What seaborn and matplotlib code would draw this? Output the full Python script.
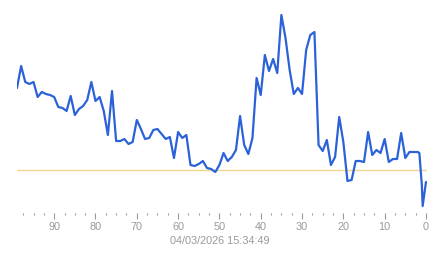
import matplotlib
matplotlib.use("Agg")
import matplotlib.pyplot as plt
import seaborn as sns
import pandas as pd
from matplotlib.ticker import MultipleLocator

sns.set_theme(style="white")
plt.rcParams['font.family'] = ['Liberation Sans', 'DejaVu Sans']

# minutes ago (x) and value (y)
minutes_ago = list(range(99, 1, -1)) + [1.6, 1.0, 0.8, 0]
values = [
    125, 147, 131, 129, 131, 116, 121, 119, 118, 116,   # 99..90
    106, 105, 102, 117, 98, 104, 107, 113, 131, 112,    # 89..80
    116, 102, 78, 122, 72, 72, 74, 69, 71, 93,          # 79..70
    84, 74, 75, 83, 84, 79, 74, 76, 55, 81,             # 69..60
    75, 78, 48, 47, 49, 52, 45, 44, 41, 48,             # 59..50
    60, 52, 56, 63, 97, 68, 59, 75, 135, 118,           # 49..40
    158, 142, 154, 140, 198, 175, 143, 119, 125, 119,   # 39..30
    163, 178, 181, 68, 62, 73, 48, 56, 96, 71,          # 29..20
    32, 33, 52, 52, 51, 81, 58, 63, 60, 74,             # 19..10
    51, 54, 54, 80, 55, 61, 61, 61,                     # 9..2
    60, 28, 7, 31,                                      # tail
]
reference_level = 43
major_ticks = [90, 80, 70, 60, 50, 40, 30, 20, 10, 0]
timestamp = "04/03/2026 15:34:49"

df = pd.DataFrame({"x": minutes_ago, "y": values})

fig = plt.figure(figsize=(4.43, 2.58), dpi=100)
ax = fig.add_axes([17/443, 1 - 213/258, 410/443, 203/258])

ax.axhline(reference_level, color="#f0d690", lw=1.0, zorder=1)
sns.lineplot(data=df, x="x", y="y", ax=ax, color="#2b62d9", lw=1.6,
             estimator=None, sort=True, zorder=2)

ax.set_xlim(99, -0.25)
ax.set_ylim(0, 203)
ax.set_xticks(major_ticks)
ax.set_xticklabels([str(t) for t in major_ticks])
ax.xaxis.set_minor_locator(MultipleLocator(2.5))
ax.set_yticks([])
ax.set_xlabel("")
ax.set_ylabel("")
for s in ax.spines.values():
    s.set_visible(False)
ax.tick_params(axis="x", which="major", direction="out", length=4, width=0.8,
               color="#999999", labelcolor="#999999", labelsize=7.8, pad=2.5,
               bottom=True)
ax.tick_params(axis="x", which="minor", direction="out", length=1.5, width=0.8,
               color="#999999", bottom=True)

fig.text(220/443, 1 - 241.5/258, timestamp, ha="center", va="center",
         color="#999999", fontsize=7.8)

fig.savefig("out.png", dpi=100)
